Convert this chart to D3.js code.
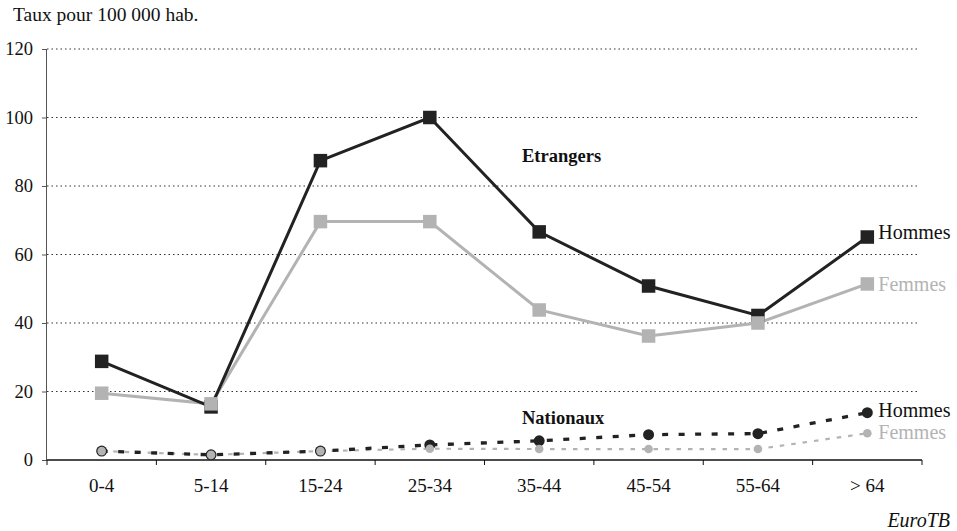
<!DOCTYPE html>
<html><head><meta charset="utf-8">
<script src="https://cdn.jsdelivr.net/npm/d3@7"></script>
<style>body{margin:0;background:#fff;} text{font-family:"Liberation Serif","Times New Roman",serif;}</style>
</head><body>
<svg id="c" width="957" height="531"></svg>
<script>
const categories = ["0-4","5-14","15-24","25-34","35-44","45-54","55-64","> 64"];
const etrHommes = [28.8, 15.5, 87.4, 100, 66.6, 50.8, 42.2, 65.1];
const etrFemmes = [19.5, 16.4, 69.6, 69.6, 43.8, 36.2, 40, 51.4];
const natHommes = [2.6, 1.5, 2.6, 4.4, 5.6, 7.4, 7.7, 13.8];
const natFemmes = [2.6, 1.5, 2.6, 3.3, 3.2, 3.2, 3.2, 7.8];
const yTicks = [0, 20, 40, 60, 80, 100, 120];

const dark = "#222222", grey = "#b3b3b3";
const svg = d3.select("#c");
const L = 47, R = 922, T = 49, B = 460;
const x = d3.scaleBand().domain(categories).range([L, R]);
const y = d3.scaleLinear().domain([0, 120]).range([B, T]);
const cx = d => x(d) + x.bandwidth() / 2;

// gridlines
svg.append("g").selectAll("line").data(yTicks.filter(t => t > 0)).join("line")
  .attr("x1", L).attr("x2", R - 2).attr("y1", d => y(d)).attr("y2", d => y(d))
  .attr("stroke", "#333").attr("stroke-width", 1).attr("stroke-dasharray", "1.5,3");

// y axis
const ya = svg.append("g").attr("transform", `translate(${L},0)`)
  .call(d3.axisLeft(y).tickValues(yTicks).tickSize(5).tickPadding(9).tickFormat(d3.format("d")));
ya.select(".domain").attr("stroke", "#555").attr("d", `M-0.5,${B}V${T}`);
ya.selectAll(".tick line").attr("stroke", "#555");
ya.selectAll("text").attr("font-size", 18.5).attr("font-family", "Liberation Serif").attr("fill", "#111");

// x axis
const xa = svg.append("g").attr("transform", `translate(0,${B})`);
xa.append("line").attr("x1", L).attr("x2", R).attr("y1", 0).attr("y2", 0).attr("stroke", "#111").attr("stroke-width", 1.5);
const bounds = categories.map(c => x(c)).concat([R]);
xa.selectAll("line.tk").data(bounds).join("line").attr("class", "tk")
  .attr("x1", d => d).attr("x2", d => d).attr("y1", 0).attr("y2", 5).attr("stroke", "#111");
xa.selectAll("text").data(categories).join("text")
  .attr("x", d => cx(d)).attr("y", 32).attr("text-anchor", "middle")
  .attr("font-size", 19).attr("fill", "#111").text(d => d);

const line = d3.line().x((d, i) => cx(categories[i])).y(d => y(d));

// Nationaux
svg.append("path").datum(natFemmes).attr("d", line).attr("fill", "none")
  .attr("stroke", grey).attr("stroke-width", 2.2).attr("stroke-dasharray", "4.5,7");
svg.append("path").datum(natHommes).attr("d", line).attr("fill", "none")
  .attr("stroke", dark).attr("stroke-width", 3.3).attr("stroke-dasharray", "6,10.5");
svg.append("g").selectAll("circle").data(natHommes).join("circle")
  .attr("cx", (d, i) => cx(categories[i])).attr("cy", d => y(d)).attr("r", 5.5).attr("fill", dark);
svg.append("g").selectAll("circle").data(natFemmes).join("circle")
  .attr("cx", (d, i) => cx(categories[i])).attr("cy", d => y(d)).attr("r", 4.3).attr("fill", grey);

// Etrangers
svg.append("path").datum(etrFemmes).attr("d", line).attr("fill", "none").attr("stroke", grey).attr("stroke-width", 3);
svg.append("path").datum(etrHommes).attr("d", line).attr("fill", "none").attr("stroke", dark).attr("stroke-width", 3);
const sq = 13.5;
svg.append("g").selectAll("rect").data(etrHommes).join("rect")
  .attr("x", (d, i) => cx(categories[i]) - sq / 2).attr("y", d => y(d) - sq / 2)
  .attr("width", sq).attr("height", sq).attr("fill", dark);
svg.append("g").selectAll("rect").data(etrFemmes).join("rect")
  .attr("x", (d, i) => cx(categories[i]) - sq / 2).attr("y", d => y(d) - sq / 2)
  .attr("width", sq).attr("height", sq).attr("fill", grey);

// labels
const last = categories.length - 1;
const lx = cx(categories[last]) + 11;
function lab(txt, v, col, dy) {
  svg.append("text").attr("x", lx).attr("y", y(v) + dy).attr("font-size", 20).attr("fill", col).text(txt);
}
lab("Hommes", etrHommes[last], "#111", 2);
lab("Femmes", etrFemmes[last], grey, 7);
lab("Hommes", natHommes[last], "#111", 4);
lab("Femmes", natFemmes[last], grey, 6);

svg.append("text").attr("x", 522).attr("y", 162).attr("font-size", 18.5).attr("font-weight", "bold").attr("fill", "#111").text("Etrangers");
svg.append("text").attr("x", 522).attr("y", 424).attr("font-size", 18.5).attr("font-weight", "bold").attr("fill", "#111").text("Nationaux");

svg.append("text").attr("x", 13).attr("y", 21).attr("font-size", 19.5).attr("fill", "#111").text("Taux pour 100 000 hab.");
svg.append("text").attr("x", 950).attr("y", 527).attr("text-anchor", "end").attr("font-size", 20).attr("font-style", "italic").attr("fill", "#111").text("EuroTB");
</script>
</body></html>
